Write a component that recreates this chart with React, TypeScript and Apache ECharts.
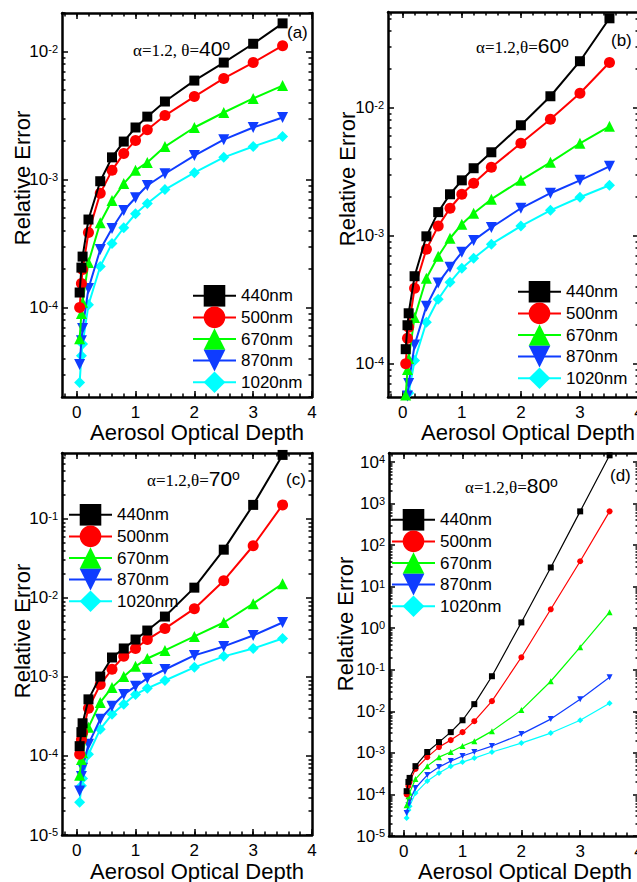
import React, { useEffect, useRef } from 'react';
import * as echarts from 'echarts';

const SANS = '"Liberation Sans", Arial, sans-serif';
const SERIF = '"Liberation Serif", "Times New Roman", serif';

// Aerosol optical depth values (x)
const xValues = [0.05, 0.08, 0.1, 0.2, 0.4, 0.6, 0.8, 1.0, 1.2, 1.5, 2.0, 2.5, 3.0, 3.5];
const seriesNames = ['440nm', '500nm', '670nm', '870nm', '1020nm'];
const seriesColors = ['#000000', '#ff0000', '#00ff00', '#0f3cff', '#00ffff'];
const seriesSymbols = ['rect', 'circle', 'triangle', 'triangle', 'diamond'];
const seriesRotate = [0, 0, 0, 180, 0];

// x axis ticks
const xMajorTicks = [0, 1, 2, 3, 4];
const X_MIN = -0.25;
const X_MAX = 4;

// Panel (a) theta = 40
const a440 = [1.31e-4, 2.05e-4, 2.5e-4, 4.87e-4, 9.7e-4, 1.49e-3, 1.98e-3, 2.55e-3, 3.1e-3, 4.07e-3, 5.93e-3, 8.2e-3, 1.15e-2, 1.66e-2];
const a500 = [1.0e-4, 1.54e-4, 1.98e-4, 3.85e-4, 7.8e-4, 1.18e-3, 1.6e-3, 2.02e-3, 2.45e-3, 3.16e-3, 4.45e-3, 6.16e-3, 8.2e-3, 1.11e-2];
const a670 = [5.7e-5, 9.0e-5, 1.1e-4, 2.25e-4, 4.6e-4, 6.86e-4, 9.3e-4, 1.18e-3, 1.36e-3, 1.81e-3, 2.55e-3, 3.34e-3, 4.3e-3, 5.42e-3];
const a870 = [3.59e-5, 5.5e-5, 6.85e-5, 1.41e-4, 2.84e-4, 4.14e-4, 5.73e-4, 7.2e-4, 8.98e-4, 1.11e-3, 1.54e-3, 2.05e-3, 2.55e-3, 3.05e-3];
const a1020 = [2.6e-5, 4.2e-5, 5.2e-5, 1.05e-4, 2.09e-4, 3.16e-4, 4.2e-4, 5.4e-4, 6.5e-4, 8.35e-4, 1.13e-3, 1.49e-3, 1.81e-3, 2.17e-3];
const aYTicks = [1e-4, 1e-3, 1e-2];

// Panel (b) theta = 60
const b440 = [1.3e-4, 2.0e-4, 2.48e-4, 4.83e-4, 9.9e-4, 1.53e-3, 2.11e-3, 2.71e-3, 3.37e-3, 4.49e-3, 7.3e-3, 1.23e-2, 2.31e-2, 5.0e-2];
const b500 = [1.0e-4, 1.58e-4, 1.93e-4, 3.89e-4, 7.85e-4, 1.19e-3, 1.64e-3, 2.11e-3, 2.57e-3, 3.43e-3, 5.28e-3, 8.13e-3, 1.3e-2, 2.26e-2];
const b670 = [5.7e-5, 9.0e-5, 1.1e-4, 2.3e-4, 4.66e-4, 6.92e-4, 9.56e-4, 1.23e-3, 1.5e-3, 1.93e-3, 2.71e-3, 3.75e-3, 5.28e-3, 7.16e-3];
const b870 = [3.6e-5, 5.6e-5, 7.0e-5, 1.4e-4, 2.82e-4, 4.27e-4, 5.68e-4, 7.43e-4, 9.2e-4, 1.16e-3, 1.64e-3, 2.15e-3, 2.71e-3, 3.49e-3];
const b1020 = [2.6e-5, 4.2e-5, 5.9e-5, 1.06e-4, 2.11e-4, 3.19e-4, 4.33e-4, 5.57e-4, 6.67e-4, 8.59e-4, 1.19e-3, 1.58e-3, 2.0e-3, 2.48e-3];
const bYTicks = [1e-4, 1e-3, 1e-2];

// Panel (c) theta = 70
const c440 = [1.33e-4, 2.0e-4, 2.59e-4, 5.2e-4, 1.01e-3, 1.76e-3, 2.29e-3, 2.97e-3, 3.86e-3, 5.8e-3, 1.346e-2, 4.07e-2, 0.15, 0.643];
const c500 = [1.05e-4, 1.6e-4, 2.0e-4, 4.0e-4, 8.0e-4, 1.25e-3, 1.82e-3, 2.29e-3, 2.97e-3, 4.09e-3, 7.3e-3, 1.65e-2, 4.56e-2, 0.15];
const c670 = [5.7e-5, 9.0e-5, 1.1e-4, 2.3e-4, 4.76e-4, 7.37e-4, 1.01e-3, 1.36e-3, 1.71e-3, 2.16e-3, 3.25e-3, 4.88e-3, 8.45e-3, 1.51e-2];
const c870 = [3.6e-5, 5.5e-5, 7.0e-5, 1.41e-4, 2.91e-4, 4.25e-4, 6.0e-4, 7.6e-4, 9.6e-4, 1.24e-3, 1.87e-3, 2.43e-3, 3.34e-3, 4.88e-3];
const c1020 = [2.6e-5, 4.2e-5, 5.2e-5, 1.05e-4, 2.18e-4, 3.36e-4, 4.5e-4, 6.0e-4, 7.16e-4, 9.0e-4, 1.32e-3, 1.82e-3, 2.29e-3, 3.06e-3];
const cYTicks = [1e-5, 1e-4, 1e-3, 1e-2, 1e-1];

// Panel (d) theta = 80
const d440 = [1.2e-4, 2.0e-4, 2.5e-4, 4.8e-4, 1.05e-3, 1.82e-3, 3.16e-3, 6.1e-3, 1.49e-2, 7.0e-2, 1.38, 29, 650, 1.45e4];
const d500 = [1.0e-4, 1.6e-4, 2.0e-4, 4.1e-4, 7.9e-4, 1.38e-3, 2.03e-3, 3.16e-3, 5.8e-3, 1.76e-2, 0.2, 2.86, 41, 650];
const d670 = [5.5e-5, 9.0e-5, 1.1e-4, 2.35e-4, 4.8e-4, 7.9e-4, 1.05e-3, 1.46e-3, 1.92e-3, 3.34e-3, 1.07e-2, 5.3e-2, 0.35, 2.43];
const d870 = [3.6e-5, 5.5e-5, 7.0e-5, 1.43e-4, 2.92e-4, 4.55e-4, 6.35e-4, 8.4e-4, 1.05e-3, 1.46e-3, 2.83e-3, 6.5e-3, 1.96e-2, 6.6e-2];
const d1020 = [2.7e-5, 4.2e-5, 5.2e-5, 1.08e-4, 2.1e-4, 3.27e-4, 4.8e-4, 6.0e-4, 7.5e-4, 1.05e-3, 1.72e-3, 3.0e-3, 6.1e-3, 1.57e-2];
const dYTicks = [1e-5, 1e-4, 1e-3, 1e-2, 1e-1, 1, 10, 100, 1000, 10000];

const panelAngles = ['40', '60', '70', '80'];
const panelLetters = ['(a)', '(b)', '(c)', '(d)'];
const xTitle = 'Aerosol Optical Depth';
const yTitle = 'Relative Error';

const panels = [
  { grid: { left: 62, top: 13, width: 250, height: 384 }, yMin: 2e-5, yMax: 2e-2, yTicks: aYTicks, data: [a440, a500, a670, a870, a1020], small: false,
    legend: { left: 192, top: 285 }, ann: { x: 133, y: 48, sep: ', ' }, letter: { x: 287, y: 32 }, xt: { x: 197, y: 432 }, yt: { x: 22, y: 178 } },
  { grid: { left: 388, top: 12, width: 251, height: 385 }, yMin: 5.5e-5, yMax: 5.6e-2, yTicks: bYTicks, data: [b440, b500, b670, b870, b1020], small: false,
    legend: { left: 517, top: 281 }, ann: { x: 476, y: 45, sep: ',' }, letter: { x: 611, y: 40 }, xt: { x: 528, y: 432 }, yt: { x: 347, y: 179 } },
  { grid: { left: 62, top: 453, width: 250, height: 382 }, yMin: 1e-5, yMax: 0.68, yTicks: cYTicks, data: [c440, c500, c670, c870, c1020], small: false,
    legend: { left: 68, top: 504 }, ann: { x: 147, y: 478, sep: ',' }, letter: { x: 286, y: 479 }, xt: { x: 197, y: 871 }, yt: { x: 22, y: 631 } },
  { grid: { left: 389, top: 453, width: 250, height: 383 }, yMin: 1e-5, yMax: 1.65e4, yTicks: dYTicks, data: [d440, d500, d670, d870, d1020], small: true,
    legend: { left: 391, top: 509 }, ann: { x: 465, y: 485, sep: ',' }, letter: { x: 610, y: 475 }, xt: { x: 525, y: 871 }, yt: { x: 345, y: 624 } },
];

function xMinorTicks(): number[] {
  const out: number[] = [];
  for (let i = -1; i <= 20; i++) out.push(Math.round(i * 0.2 * 10) / 10);
  return out;
}

function logMinorTicks(min: number, max: number): number[] {
  const out: number[] = [];
  const lo = Math.floor(Math.log10(min));
  const hi = Math.ceil(Math.log10(max));
  for (let e = lo; e <= hi; e++) {
    for (let m = 2; m <= 9; m++) {
      const v = m * Math.pow(10, e);
      if (v >= min && v <= max) out.push(v);
    }
  }
  return out;
}

function buildOption() {
  const xAxes: any[] = [];
  const yAxes: any[] = [];
  const series: any[] = [];
  const legends: any[] = [];
  const graphics: any[] = [];
  const grids: any[] = [];
  const xMinor = xMinorTicks();

  panels.forEach((p, gi) => {
    grids.push({ ...p.grid, containLabel: false, outerBoundsMode: 'none' });
    const lineStyle = { color: '#000', width: 2.5 };
    const majorTick = (vals: number[]) => ({ show: true, inside: true, length: 6, lineStyle: { color: '#000', width: 1.5 }, customValues: vals });
    const minorTick = (vals: number[]) => ({ show: true, inside: true, length: 3.5, lineStyle: { color: '#000', width: 1.5 }, customValues: vals });
    const xBase = { type: 'value', gridIndex: gi, min: X_MIN, max: X_MAX, splitLine: { show: false }, axisLabel: { show: false } };
    const xi = xAxes.length;
    xAxes.push({ ...xBase, position: 'bottom', axisLine: { show: true, onZero: false, lineStyle }, axisTick: majorTick(xMajorTicks),
      axisLabel: { show: true, customValues: xMajorTicks, fontSize: 17, fontFamily: SANS, color: '#000', margin: 7, formatter: (v: number) => String(Math.round(v)) } });
    xAxes.push({ ...xBase, position: 'top', axisLine: { show: true, onZero: false, lineStyle }, axisTick: majorTick(xMajorTicks) });
    xAxes.push({ ...xBase, position: 'bottom', axisLine: { show: false, onZero: false }, axisTick: minorTick(xMinor) });
    xAxes.push({ ...xBase, position: 'top', axisLine: { show: false, onZero: false }, axisTick: minorTick(xMinor) });

    const yMinor = logMinorTicks(p.yMin, p.yMax);
    const yBase = { type: 'log', logBase: 10, gridIndex: gi, min: p.yMin, max: p.yMax, splitLine: { show: false }, axisLabel: { show: false } };
    const yi = yAxes.length;
    yAxes.push({ ...yBase, position: 'left', axisLine: { show: true, onZero: false, lineStyle }, axisTick: majorTick(p.yTicks),
      axisLabel: { show: true, customValues: p.yTicks, color: '#000', margin: 4,
        formatter: (v: number) => `{b|10}{s|${Math.round(Math.log10(v))}}`,
        rich: { b: { fontSize: 17, fontFamily: SANS, color: '#000', verticalAlign: 'bottom' }, s: { fontSize: 11, fontFamily: SANS, color: '#000', verticalAlign: 'top' } } } });
    yAxes.push({ ...yBase, position: 'right', axisLine: { show: true, onZero: false, lineStyle }, axisTick: majorTick(p.yTicks) });
    yAxes.push({ ...yBase, position: 'left', axisLine: { show: false, onZero: false }, axisTick: minorTick(yMinor) });
    yAxes.push({ ...yBase, position: 'right', axisLine: { show: false, onZero: false }, axisTick: minorTick(yMinor) });

    seriesNames.forEach((name, si) => {
      const sz = p.small ? 6 : (si === 0 ? 10 : 11);
      series.push({
        type: 'line', name, xAxisIndex: xi, yAxisIndex: yi,
        data: xValues.map((x, k) => [x, p.data[si][k]]),
        symbol: seriesSymbols[si], symbolRotate: seriesRotate[si], symbolSize: sz,
        lineStyle: { color: seriesColors[si], width: p.small ? 1.2 : 2 },
        itemStyle: { color: seriesColors[si] },
        showSymbol: true, clip: true, z: 2 + (5 - si),
      });
    });

    legends.push({
      data: seriesNames, orient: 'vertical', left: p.legend.left, top: p.legend.top, padding: 0,
      itemWidth: 43, itemHeight: 27, itemGap: 0, selectedMode: false,
      textStyle: { fontSize: 17, fontFamily: SANS, color: '#000' },
      lineStyle: { width: 2 },
    });

    graphics.push({
      type: 'text', x: p.ann.x, y: p.ann.y,
      style: {
        text: `{s|α=1.2${p.ann.sep}θ=}{n|${panelAngles[gi]}}{o|o}`,
        verticalAlign: 'middle', align: 'left',
        rich: {
          s: { fontFamily: SERIF, fontSize: 17, fill: '#000', verticalAlign: 'bottom' },
          n: { fontFamily: SANS, fontSize: 21, fill: '#000', verticalAlign: 'bottom' },
          o: { fontFamily: SANS, fontSize: 14, fill: '#000', verticalAlign: 'top' },
        },
      },
    });
    graphics.push({ type: 'text', x: p.letter.x, y: p.letter.y, style: { text: panelLetters[gi], fontFamily: SANS, fontSize: 17, fill: '#000', verticalAlign: 'middle', align: 'left' } });
    graphics.push({ type: 'text', x: p.xt.x, y: p.xt.y, style: { text: xTitle, fontFamily: SANS, fontSize: 22, fill: '#000', verticalAlign: 'middle', align: 'center' } });
    graphics.push({ type: 'text', x: p.yt.x, y: p.yt.y, rotation: Math.PI / 2, style: { text: yTitle, fontFamily: SANS, fontSize: 22, fill: '#000', verticalAlign: 'middle', align: 'center' } });
  });

  return {
    animation: false,
    backgroundColor: '#ffffff',
    grid: grids,
    xAxis: xAxes,
    yAxis: yAxes,
    series,
    legend: legends,
    graphic: graphics,
  };
}

export default function App() {
  const ref = useRef<HTMLDivElement>(null);
  useEffect(() => {
    document.body.style.margin = '0';
    if (!ref.current) return;
    const chart = echarts.init(ref.current, null, { renderer: 'svg' });
    chart.setOption(buildOption() as any);
    return () => chart.dispose();
  }, []);
  return <div ref={ref} style={{ width: 637, height: 882 }} />;
}
